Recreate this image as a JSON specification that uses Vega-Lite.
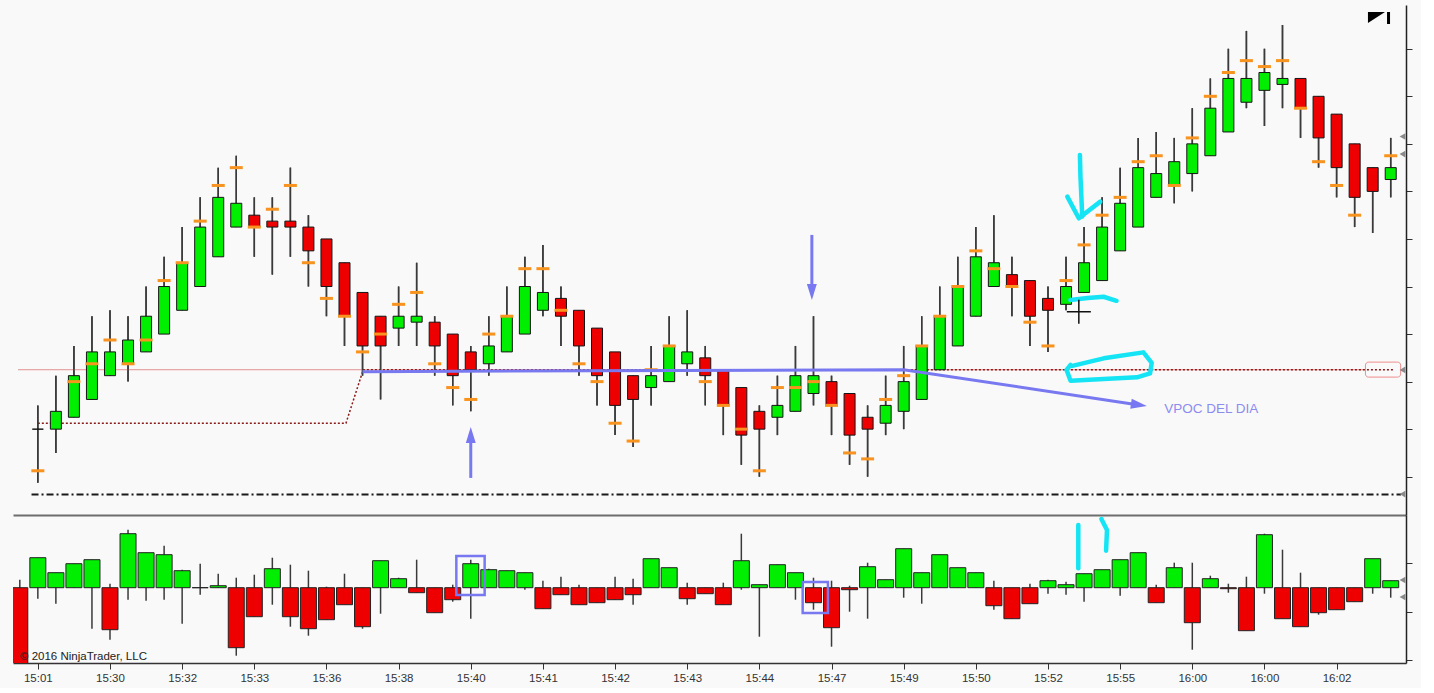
{
"$schema":"https://vega.github.io/schema/vega-lite/v6.json",
"background":"#f9f9f9",
"padding":{"left":13,"top":5,"right":8,"bottom":4},
"spacing":0,
"bounds":"flush",
"config":{"view":{"stroke":null},"font":"Liberation Sans","axis":{"grid":false}},
"datasets":{
"k":[
{"i":0,"o":2052,"h":2053,"l":2049.75,"c":2052,"m":2050.25},
{"i":1,"o":2052,"h":2054.25,"l":2051,"c":2052.75},
{"i":2,"o":2052.5,"h":2055.5,"l":2052.5,"c":2054.25,"m":2054},
{"i":3,"o":2053.25,"h":2056.75,"l":2053.25,"c":2055.25,"m":2054.75},
{"i":4,"o":2054.25,"h":2057,"l":2054.25,"c":2055.25,"m":2055.75},
{"i":5,"o":2054.75,"h":2056.75,"l":2054,"c":2055.75,"m":2054.75},
{"i":6,"o":2055.25,"h":2058,"l":2055.25,"c":2056.75,"m":2055.75},
{"i":7,"o":2056,"h":2059.25,"l":2056,"c":2058,"m":2058.25},
{"i":8,"o":2057,"h":2060.5,"l":2057,"c":2059,"m":2059},
{"i":9,"o":2058,"h":2061.75,"l":2058,"c":2060.5,"m":2060.75},
{"i":10,"o":2059.25,"h":2063,"l":2059.25,"c":2061.75,"m":2062.25},
{"i":11,"o":2060.5,"h":2063.5,"l":2060.5,"c":2061.5,"m":2063},
{"i":12,"o":2061,"h":2061.75,"l":2059.25,"c":2060.5,"m":2060.5},
{"i":13,"o":2060.75,"h":2061.75,"l":2058.5,"c":2060.5,"m":2061.25},
{"i":14,"o":2060.75,"h":2063,"l":2059.25,"c":2060.5,"m":2062.25},
{"i":15,"o":2060.5,"h":2061,"l":2058,"c":2059.5,"m":2059},
{"i":16,"o":2060,"h":2060,"l":2056.75,"c":2058,"m":2057.5},
{"i":17,"o":2059,"h":2059,"l":2055.5,"c":2056.75,"m":2056.75},
{"i":18,"o":2057.75,"h":2057.75,"l":2054.25,"c":2055.5,"m":2055.25},
{"i":19,"o":2056.75,"h":2056.75,"l":2053.25,"c":2055.5,"m":2056},
{"i":20,"o":2056.25,"h":2058,"l":2055.5,"c":2056.75,"m":2057.25},
{"i":21,"o":2056.5,"h":2059,"l":2055.5,"c":2056.75,"m":2057.75},
{"i":22,"o":2056.5,"h":2056.75,"l":2054.25,"c":2055.5,"m":2054.75},
{"i":23,"o":2056,"h":2056,"l":2053,"c":2054.25,"m":2053.75},
{"i":24,"o":2055.25,"h":2055.5,"l":2052.75,"c":2054.5,"m":2053.25},
{"i":25,"o":2054.75,"h":2056.75,"l":2054.25,"c":2055.5,"m":2056},
{"i":26,"o":2055.25,"h":2058,"l":2055.25,"c":2056.75,"m":2056.75},
{"i":27,"o":2056,"h":2059.25,"l":2056,"c":2058,"m":2058.75},
{"i":28,"o":2057,"h":2059.75,"l":2056.75,"c":2057.75,"m":2058.75},
{"i":29,"o":2057.5,"h":2058,"l":2055.5,"c":2056.75,"m":2057},
{"i":30,"o":2057,"h":2057,"l":2054.25,"c":2055.5,"m":2054.75},
{"i":31,"o":2056.25,"h":2056.25,"l":2053,"c":2054.25,"m":2054},
{"i":32,"o":2055.25,"h":2055.25,"l":2051.75,"c":2053,"m":2052.25},
{"i":33,"o":2054.25,"h":2054.25,"l":2051.25,"c":2053.25,"m":2051.5},
{"i":34,"o":2053.75,"h":2055.5,"l":2053,"c":2054.25,"m":2054.5},
{"i":35,"o":2054,"h":2056.75,"l":2054,"c":2055.5,"m":2055.5},
{"i":36,"o":2054.75,"h":2057,"l":2054.25,"c":2055.25},
{"i":37,"o":2055,"h":2055.5,"l":2053,"c":2054.25,"m":2054},
{"i":38,"o":2054.5,"h":2054.5,"l":2051.75,"c":2053,"m":2053},
{"i":39,"o":2053.75,"h":2053.75,"l":2050.5,"c":2051.75,"m":2052},
{"i":40,"o":2052.75,"h":2053,"l":2050,"c":2052,"m":2050.25},
{"i":41,"o":2052.5,"h":2054.25,"l":2051.75,"c":2053,"m":2053.75},
{"i":42,"o":2052.75,"h":2055.5,"l":2052.75,"c":2054.25,"m":2053.75},
{"i":43,"o":2053.5,"h":2056.75,"l":2053,"c":2054.25,"m":2054},
{"i":44,"o":2054,"h":2054.25,"l":2051.75,"c":2053,"m":2053},
{"i":45,"o":2053.5,"h":2053.5,"l":2050.5,"c":2051.75,"m":2051},
{"i":46,"o":2052.5,"h":2053,"l":2050,"c":2052,"m":2050.75},
{"i":47,"o":2052.25,"h":2054.25,"l":2051.75,"c":2053,"m":2053.25},
{"i":48,"o":2052.75,"h":2055.5,"l":2052,"c":2054,"m":2054.25},
{"i":49,"o":2053.25,"h":2056.75,"l":2053.25,"c":2055.5,"m":2055.5},
{"i":50,"o":2054.5,"h":2058,"l":2054.5,"c":2056.75,"m":2056.75},
{"i":51,"o":2055.5,"h":2059.25,"l":2055.5,"c":2058,"m":2058},
{"i":52,"o":2056.75,"h":2060.5,"l":2056.75,"c":2059.25,"m":2059.5},
{"i":53,"o":2058,"h":2061,"l":2058,"c":2059,"m":2058.75},
{"i":54,"o":2058.5,"h":2059.25,"l":2056.75,"c":2058,"m":2058},
{"i":55,"o":2058.25,"h":2058.25,"l":2055.5,"c":2056.75,"m":2056.5},
{"i":56,"o":2057.5,"h":2058,"l":2055.25,"c":2057,"m":2055.5},
{"i":57,"o":2057.25,"h":2059.25,"l":2057,"c":2058,"m":2058.25},
{"i":58,"o":2057.75,"h":2060.5,"l":2057.75,"c":2059,"m":2059.75},
{"i":59,"o":2058.25,"h":2061.75,"l":2058.25,"c":2060.5,"m":2061},
{"i":60,"o":2059.5,"h":2063,"l":2059.5,"c":2061.5,"m":2061.75},
{"i":61,"o":2060.5,"h":2064.25,"l":2060.5,"c":2063,"m":2063.25},
{"i":62,"o":2061.75,"h":2064.5,"l":2061.75,"c":2062.75,"m":2063.5},
{"i":63,"o":2062.25,"h":2064.25,"l":2061.5,"c":2063.25,"m":2062.25},
{"i":64,"o":2062.75,"h":2065.5,"l":2062,"c":2064,"m":2064.25},
{"i":65,"o":2063.5,"h":2066.75,"l":2063.5,"c":2065.5,"m":2066},
{"i":66,"o":2064.5,"h":2068,"l":2064.5,"c":2066.75,"m":2067},
{"i":67,"o":2065.75,"h":2068.75,"l":2065.5,"c":2066.75,"m":2067.5},
{"i":68,"o":2066.25,"h":2068,"l":2064.75,"c":2067,"m":2067.25},
{"i":69,"o":2066.5,"h":2069,"l":2065.5,"c":2066.75,"m":2067.5},
{"i":70,"o":2066.75,"h":2066.75,"l":2064.25,"c":2065.5,"m":2065.5},
{"i":71,"o":2066,"h":2066,"l":2063,"c":2064.25,"m":2063.25},
{"i":72,"o":2065.25,"h":2065.25,"l":2061.75,"c":2063,"m":2062.25},
{"i":73,"o":2064,"h":2064,"l":2060.5,"c":2061.75,"m":2061},
{"i":74,"o":2063,"h":2063,"l":2060.25,"c":2062},
{"i":75,"o":2062.5,"h":2064.25,"l":2061.75,"c":2063,"m":2063.5}
],
"d":[
{"i":-1,"d":-800,"dh":80,"dl":-800},
{"i":0,"d":300,"dh":300,"dl":-110},
{"i":1,"d":150,"dh":150,"dl":-160},
{"i":2,"d":240,"dh":240,"dl":0},
{"i":3,"d":280,"dh":280,"dl":-410},
{"i":4,"d":-420,"dh":40,"dl":-520},
{"i":5,"d":540,"dh":580,"dl":-120},
{"i":6,"d":350,"dh":350,"dl":-130},
{"i":7,"d":330,"dh":420,"dl":-120},
{"i":8,"d":170,"dh":180,"dl":-360},
{"i":9,"d":0,"dh":240,"dl":-70},
{"i":10,"d":20,"dh":140,"dl":0},
{"i":11,"d":-600,"dh":100,"dl":-680},
{"i":12,"d":-290,"dh":130,"dl":-290},
{"i":13,"d":190,"dh":300,"dl":-170},
{"i":14,"d":-290,"dh":230,"dl":-390},
{"i":15,"d":-410,"dh":170,"dl":-480},
{"i":16,"d":-320,"dh":10,"dl":-320},
{"i":17,"d":-170,"dh":140,"dl":-170},
{"i":18,"d":-390,"dh":0,"dl":-410},
{"i":19,"d":270,"dh":270,"dl":-260},
{"i":20,"d":90,"dh":100,"dl":0},
{"i":21,"d":-50,"dh":280,"dl":-50},
{"i":22,"d":-250,"dh":0,"dl":-250},
{"i":23,"d":-120,"dh":30,"dl":-140},
{"i":24,"d":240,"dh":280,"dl":-310},
{"i":25,"d":180,"dh":190,"dl":0},
{"i":26,"d":170,"dh":170,"dl":0},
{"i":27,"d":150,"dh":150,"dl":-20},
{"i":28,"d":-210,"dh":70,"dl":-210},
{"i":29,"d":-70,"dh":110,"dl":-70},
{"i":30,"d":-170,"dh":30,"dl":-170},
{"i":31,"d":-150,"dh":0,"dl":-150},
{"i":32,"d":-120,"dh":110,"dl":-120},
{"i":33,"d":-70,"dh":90,"dl":-170},
{"i":34,"d":290,"dh":290,"dl":0},
{"i":35,"d":200,"dh":200,"dl":0},
{"i":36,"d":-110,"dh":50,"dl":-170},
{"i":37,"d":-60,"dh":0,"dl":-60},
{"i":38,"d":-170,"dh":50,"dl":-170},
{"i":39,"d":270,"dh":540,"dl":-20},
{"i":40,"d":30,"dh":30,"dl":-490},
{"i":41,"d":230,"dh":230,"dl":0},
{"i":42,"d":150,"dh":150,"dl":-120},
{"i":43,"d":-150,"dh":100,"dl":-220},
{"i":44,"d":-400,"dh":70,"dl":-590},
{"i":45,"d":-20,"dh":20,"dl":-240},
{"i":46,"d":210,"dh":250,"dl":-310},
{"i":47,"d":80,"dh":80,"dl":0},
{"i":48,"d":390,"dh":390,"dl":-100},
{"i":49,"d":150,"dh":150,"dl":-160},
{"i":50,"d":330,"dh":330,"dl":0},
{"i":51,"d":200,"dh":200,"dl":0},
{"i":52,"d":150,"dh":150,"dl":0},
{"i":53,"d":-180,"dh":70,"dl":-220},
{"i":54,"d":-310,"dh":0,"dl":-310},
{"i":55,"d":-160,"dh":40,"dl":-160},
{"i":56,"d":70,"dh":80,"dl":-60},
{"i":57,"d":30,"dh":60,"dl":-70},
{"i":58,"d":140,"dh":140,"dl":-140},
{"i":59,"d":180,"dh":180,"dl":0},
{"i":60,"d":280,"dh":280,"dl":-80},
{"i":61,"d":350,"dh":350,"dl":0},
{"i":62,"d":-150,"dh":30,"dl":-150},
{"i":63,"d":200,"dh":250,"dl":0},
{"i":64,"d":-350,"dh":250,"dl":-620},
{"i":65,"d":90,"dh":120,"dl":0},
{"i":66,"d":-10,"dh":40,"dl":-50},
{"i":67,"d":-430,"dh":110,"dl":-430},
{"i":68,"d":530,"dh":540,"dl":-60},
{"i":69,"d":-310,"dh":380,"dl":-310},
{"i":70,"d":-390,"dh":150,"dl":-390},
{"i":71,"d":-250,"dh":0,"dl":-270},
{"i":72,"d":-220,"dh":0,"dl":-220},
{"i":73,"d":-140,"dh":0,"dl":-140},
{"i":74,"d":290,"dh":290,"dl":-60},
{"i":75,"d":70,"dh":70,"dl":-100}
],
"dv":[{"i":0,"p":2052.25},{"i":17.08,"p":2052.25},{"i":18.04,"p":2054.5},{"i":75.2,"p":2054.5}],
"lv":[
{"g":"a","o":0,"i":18,"p":2054.42},
{"g":"a","o":1,"i":48.0,"p":2054.5},
{"g":"a","o":2,"i":61.04,"p":2053.02},
{"g":"b","o":0,"i":24,"p":2049.95},
{"g":"b","o":1,"i":24,"p":2051.55},
{"g":"c","o":0,"i":42.91,"p":2060.17},
{"g":"c","o":1,"i":42.91,"p":2058.0}
],
"ah":[{"i":24,"p":2051.75,"a":0},{"i":42.91,"p":2057.77,"a":180},{"i":61.04,"p":2053.02,"a":98.5}],
"cy":[
{"g":"s","o":0,"i":57.77,"p":2063.53},
{"g":"s","o":1,"i":57.8,"p":2062.62},
{"g":"s","o":2,"i":57.9,"p":2060.94},
{"g":"h","o":0,"i":57.07,"p":2061.78},
{"g":"h","o":1,"i":57.71,"p":2060.87},
{"g":"h","o":2,"i":58.9,"p":2061.57},
{"g":"q","o":0,"i":57.24,"p":2057.43},
{"g":"q","o":1,"i":58.2,"p":2057.52},
{"g":"q","o":2,"i":59.08,"p":2057.57},
{"g":"q","o":3,"i":59.8,"p":2057.4},
{"g":"l","o":0,"i":57.35,"p":2054.66},
{"g":"l","o":1,"i":59.09,"p":2054.98},
{"g":"l","o":2,"i":61.29,"p":2055.23},
{"g":"l","o":3,"i":61.75,"p":2054.79},
{"g":"l","o":4,"i":61.66,"p":2054.35},
{"g":"l","o":5,"i":60.93,"p":2054.18},
{"g":"l","o":6,"i":57.25,"p":2054.04},
{"g":"l","o":7,"i":57.03,"p":2054.49},
{"g":"l","o":8,"i":57.25,"p":2054.7}
],
"cb":[
{"g":"a","o":0,"i":57.68,"v":627},
{"g":"a","o":1,"i":57.68,"v":194},
{"g":"b","o":0,"i":58.96,"v":687},
{"g":"b","o":1,"i":59.27,"v":577},
{"g":"b","o":2,"i":59.22,"v":370}
],
"bx":[{"i1":23.2,"i2":24.77,"v1":317,"v2":-73},{"i1":42.4,"i2":43.8,"v1":57,"v2":-253}],
"tr":[{"i":75.65,"p":2064.31},{"i":75.65,"p":2063.57},{"i":75.65,"p":2054.49},{"i":75.65,"p":2049.27}],
"tb":[{"i":75.65,"v":77},{"i":75.65,"v":-93}]
},
"vconcat":[
{"width":1393,"height":510,"layer":[
{"data":{"name":"k"},"mark":{"type":"rule","color":"#3a3a3a","strokeWidth":1.5},"encoding":{
"x":{"field":"i","type":"quantitative","scale":{"domain":[-1.1,75.57],"nice":false,"zero":false},"axis":{"title":null,"labels":false,"ticks":false,"grid":false,"domain":true,"domainColor":"#6e6e6e","domainWidth":2}},
"y":{"field":"l","type":"quantitative","scale":{"domain":[2048.39,2069.84],"nice":false,"zero":false},"axis":{"orient":"right","values":[2050,2051,2052,2053,2054,2055,2056,2057,2058,2059,2060,2061,2062,2063,2064,2065,2066,2067,2068,2069],"labels":false,"title":null,"grid":false,"domain":true,"domainColor":"#222","domainWidth":1.5,"ticks":true,"tickColor":"#333","tickSize":6}},
"y2":{"field":"h"}}},
{"data":{"values":[{}]},"mark":{"type":"rule","color":"#e39191","strokeWidth":1},"encoding":{"x":{"datum":-1.1,"type":"quantitative"},"x2":{"datum":73.6},"y":{"datum":2054.5,"type":"quantitative"}}},
{"data":{"values":[{}]},"mark":{"type":"rule","color":"#1a1a1a","strokeWidth":2,"strokeDash":[7,3,2,3]},"encoding":{"x":{"datum":-0.35,"type":"quantitative"},"x2":{"datum":75.57},"y":{"datum":2049.25,"type":"quantitative"}}},
{"data":{"name":"dv"},"mark":{"type":"line","color":"#8b1a1a","strokeWidth":1.5,"strokeDash":[2,2],"clip":true},"encoding":{"x":{"field":"i","type":"quantitative"},"y":{"field":"p","type":"quantitative"}}},
{"data":{"name":"k"},"mark":{"type":"rule","color":"#3a3a3a","strokeWidth":1.5},"encoding":{"x":{"field":"i","type":"quantitative"},"y":{"field":"l","type":"quantitative"},"y2":{"field":"h"}}},
{"data":{"name":"k"},"mark":{"type":"bar","width":11,"stroke":"#151515","strokeWidth":1},"encoding":{"x":{"field":"i","type":"quantitative"},"y":{"field":"o","type":"quantitative"},"y2":{"field":"c"},"fill":{"condition":{"test":"datum.c > datum.o","value":"#00ee00"},"value":"#ee0000"}}},
{"data":{"name":"k"},"mark":{"type":"point","shape":"stroke","size":169,"stroke":"#f7931e","strokeWidth":3,"opacity":1,"filled":false},"encoding":{"x":{"field":"i","type":"quantitative"},"y":{"field":"m","type":"quantitative"}}},
{"data":{"name":"lv"},"mark":{"type":"line","color":"#7878f0","strokeWidth":3},"encoding":{"x":{"field":"i","type":"quantitative"},"y":{"field":"p","type":"quantitative"},"detail":{"field":"g"},"order":{"field":"o"}}},
{"data":{"name":"ah"},"mark":{"type":"point","shape":"M0,-1L0.62,1L-0.62,1Z","size":256,"filled":true,"fill":"#7878f0","opacity":1,"strokeWidth":0},"encoding":{"x":{"field":"i","type":"quantitative"},"y":{"field":"p","type":"quantitative"},"angle":{"field":"a","type":"quantitative","scale":null}}},
{"data":{"values":[{"i":62.45,"p":2052.84,"t":"VPOC DEL DIA"}]},"mark":{"type":"text","align":"left","baseline":"middle","fontSize":13.5,"color":"#8c8cf0","font":"Liberation Sans"},"encoding":{"x":{"field":"i","type":"quantitative"},"y":{"field":"p","type":"quantitative"},"text":{"field":"t"}}},
{"data":{"name":"cy"},"mark":{"type":"line","color":"#14e4f4","strokeWidth":4.5,"strokeCap":"round","strokeJoin":"round"},"encoding":{"x":{"field":"i","type":"quantitative"},"y":{"field":"p","type":"quantitative"},"detail":{"field":"g"},"order":{"field":"o"}}},
{"data":{"values":[{"i":57.71,"p":2056.94}]},"mark":{"type":"point","shape":"M-1,0L1,0M0,-1L0,1","size":576,"filled":false,"stroke":"#111","strokeWidth":1.5,"opacity":1},"encoding":{"x":{"field":"i","type":"quantitative"},"y":{"field":"p","type":"quantitative"}}},
{"data":{"values":[{}]},"mark":{"type":"rect","fill":"transparent","stroke":"#f08c8c","strokeWidth":1,"cornerRadius":3},"encoding":{"x":{"datum":73.6,"type":"quantitative"},"x2":{"datum":75.55},"y":{"datum":2054.82,"type":"quantitative"},"y2":{"datum":2054.19}}},
{"data":{"name":"tr"},"mark":{"type":"point","shape":"triangle-left","size":45,"filled":true,"fill":"#8a8a8a","opacity":1,"clip":false},"encoding":{"x":{"field":"i","type":"quantitative"},"y":{"field":"p","type":"quantitative"}}},
{"data":{"values":[{"i":74.35,"p":2069.29}]},"mark":{"type":"point","shape":"M-0.92,-0.5L0.5,-0.5L-0.92,0.42ZM0.67,-0.5L0.92,-0.5L0.92,0.5L0.67,0.5Z","size":576,"filled":true,"fill":"#000","opacity":1},"encoding":{"x":{"field":"i","type":"quantitative"},"y":{"field":"p","type":"quantitative"}}}
]},
{"width":1393,"height":148,"layer":[
{"data":{"name":"d"},"mark":{"type":"rule","color":"#3a3a3a","strokeWidth":1.5,"clip":true},"encoding":{
"x":{"field":"i","type":"quantitative","scale":{"domain":[-1.1,75.57],"nice":false,"zero":false},"axis":{"values":[0,4,8,12,16,20,24,28,32,36,40,44,48,52,56,60,64,68,72],"labelExpr":"['15:01','15:30','15:32','15:33','15:36','15:38','15:40','15:41','15:42','15:43','15:44','15:47','15:49','15:50','15:52','15:55','16:00','16:00','16:02'][round(datum.value/4)]","title":null,"grid":false,"domain":true,"domainColor":"#333","domainWidth":1.5,"ticks":true,"tickColor":"#333","tickSize":6,"labels":true,"labelFont":"Liberation Sans","labelFontSize":11.5,"labelColor":"#333","labelPadding":3,"labelFlush":false,"labelOverlap":false}},
"y":{"field":"dl","type":"quantitative","scale":{"domain":[-753,727],"nice":false,"zero":false},"axis":{"orient":"right","values":[490,245,0,-240,-485,-725],"labels":false,"title":null,"grid":false,"domain":true,"domainColor":"#222","domainWidth":1.5,"ticks":true,"tickColor":"#333","tickSize":6}},
"y2":{"field":"dh"}}},
{"data":{"name":"d"},"mark":{"type":"bar","width":16,"stroke":"#222","strokeWidth":1,"clip":true},"encoding":{"x":{"field":"i","type":"quantitative"},"y":{"field":"d","type":"quantitative"},"y2":{"datum":0},"fill":{"condition":{"test":"datum.d > 0","value":"#00ee00"},"value":"#ee0000"}}},
{"data":{"name":"bx"},"mark":{"type":"rect","fill":"transparent","stroke":"#7878f0","strokeWidth":2.5},"encoding":{"x":{"field":"i1","type":"quantitative"},"x2":{"field":"i2"},"y":{"field":"v1","type":"quantitative"},"y2":{"field":"v2"}}},
{"data":{"name":"cb"},"mark":{"type":"line","color":"#14e4f4","strokeWidth":4.5,"strokeCap":"round","strokeJoin":"round"},"encoding":{"x":{"field":"i","type":"quantitative"},"y":{"field":"v","type":"quantitative"},"detail":{"field":"g"},"order":{"field":"o"}}},
{"data":{"values":[{"i":-0.99,"v":-693,"t":"© 2016 NinjaTrader, LLC"}]},"mark":{"type":"text","align":"left","baseline":"middle","fontSize":11.5,"color":"#222","font":"Liberation Sans"},"encoding":{"x":{"field":"i","type":"quantitative"},"y":{"field":"v","type":"quantitative"},"text":{"field":"t"}}},
{"data":{"name":"tb"},"mark":{"type":"point","shape":"triangle-left","size":45,"filled":true,"fill":"#8a8a8a","opacity":1,"clip":false},"encoding":{"x":{"field":"i","type":"quantitative"},"y":{"field":"v","type":"quantitative"}}}
]}
]
}
